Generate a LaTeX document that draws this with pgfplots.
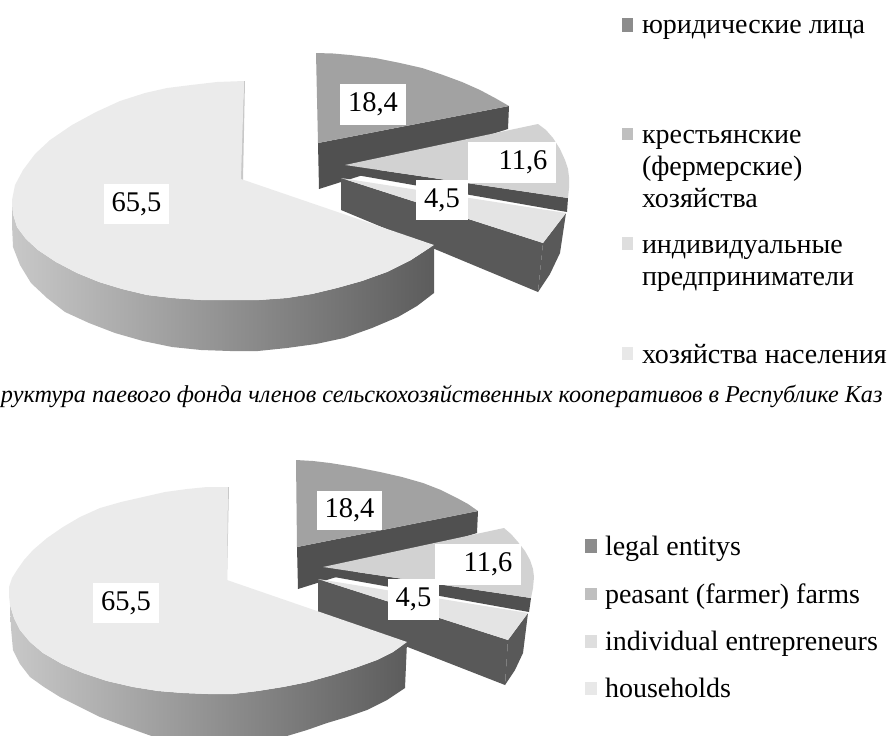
\documentclass[border=0pt]{standalone}
\usepackage{pgfplots}
\pgfplotsset{compat=1.18}
\usepackage{fontspec}
\setmainfont{Liberation Serif}
\definecolor{cbig}{HTML}{EBEBEB}
\definecolor{cleg}{HTML}{A2A2A2}
\definecolor{cpea}{HTML}{D2D2D2}
\definecolor{cind}{HTML}{E4E4E4}
\definecolor{cdark}{HTML}{505050}
\definecolor{cfront}{HTML}{595959}
\definecolor{cside}{HTML}{C8C8C8}
\definecolor{csided}{HTML}{5C5C5C}
\newcommand{\lab}{\fontsize{28.5}{30}\selectfont}
\newcommand{\leg}{\fontsize{28}{30}\selectfont}
\tikzset{valbox/.style={fill=white,text=black,anchor=center,align=center,inner sep=0pt},
  legtxt/.style={anchor=base west,inner sep=0pt,outer sep=0pt}}
\begin{document}
\begin{tikzpicture}
\useasboundingbox (0,0) rectangle (887pt,736pt);
\clip (0,0) rectangle (887pt,736pt);
\begin{axis}[scale only axis,width=887pt,height=736pt,xmin=0,xmax=887,ymin=0,ymax=736,y dir=reverse,hide axis,clip=true]
% ---- top pie: legal entities
\addplot[draw=none,fill=cdark] coordinates {(509,106)(508,129)(319,189)(318,143)} -- cycle;
\addplot[draw=none,fill=cleg] coordinates {(316,53)(333,53.5)(350,55)(375,58)(400,63)(422,68)(443,75)(462,82)(480,90)(495,98)(509,106)(318,143)} -- cycle;
% peasant
\addplot[draw=none,fill=cdark] coordinates {(345,165)(568,198)(567,212)(345,173)} -- cycle;
\addplot[draw=none,fill=cpea] coordinates {(345,165)(538,124)(546,130)(553,138)(560,149)(565,160)(568,169)(569,177)(569,188)(568,198)} -- cycle;
% individual
\addplot[draw=none,fill=cfront] coordinates {(543,243)(566,213)(560,253)(550,274)(538,292)} -- cycle;
\addplot[draw=none,fill=cfront] coordinates {(341,178)(543,243)(538,292)(341,210)} -- cycle;
\addplot[draw=none,fill=cind] coordinates {(341,178)(566,213)(543,243)} -- cycle;
% households
\addplot[draw=none,fill=cside] coordinates {(244,81)(245,81)(243,180)(240,180)} -- cycle;
\addplot[draw=none,left color=cside,right color=csided] coordinates {(434,245)(411,260)(387,272)(362,281)(337,288)(312,294)(287,298)(259,300)(230,300)(201,300)(172,298)(147,295)(122,289)(99,282)(77,273)(56,262)(38,250)(26,239)(17,227)(13,214)(12,200)(12,225)(13,247)(20,265)(31,283)(47,298)(65,312)(89,323)(115,333)(143,341)(172,347)(201,350)(230,351)(258,351)(287,348)(316,344)(344,338)(372,328)(398,317)(417,306)(434,293)} -- cycle;
\addplot[draw=none,fill=cbig] coordinates {(244,81)(217,82)(191,85)(167,88)(145,93)(120,101)(96,112)(72,125)(50,140)(35,154)(23,170)(15,185)(12,200)(13,214)(17,227)(26,239)(38,250)(56,262)(77,273)(99,282)(122,289)(147,295)(172,298)(201,300)(230,300)(259,300)(287,298)(312,294)(337,288)(362,281)(387,272)(411,260)(434,245)(241,179)} -- cycle;
% ---- bottom pie
\addplot[draw=none,fill=cdark] coordinates {(478,511)(477,533)(298,589)(297,547)} -- cycle;
\addplot[draw=none,fill=cleg] coordinates {(296,460)(313,461)(330,463)(355,467)(380,472)(402,477)(423,483)(441,490)(457,498)(468,504)(478,511)(297,547)} -- cycle;
\addplot[draw=none,fill=cdark] coordinates {(323,567)(531,598)(529,612)(323,575)} -- cycle;
\addplot[draw=none,fill=cpea] coordinates {(323,567)(504,528)(511,534)(518,542)(525,551)(530,560)(533,569)(534,577)(533,588)(531,598)} -- cycle;
\addplot[draw=none,fill=cfront] coordinates {(508,640)(528,613)(523,653)(515,670)(505,685)} -- cycle;
\addplot[draw=none,fill=cfront] coordinates {(318,579)(508,640)(505,685)(318,612)} -- cycle;
\addplot[draw=none,fill=cind] coordinates {(318,579)(528,613)(508,640)} -- cycle;
\addplot[draw=none,fill=cside] coordinates {(228,487)(229,487)(227,581)(224,581)} -- cycle;
\addplot[draw=none,left color=cside,right color=csided] coordinates {(407,642)(393,652)(377,660)(355,668)(333,675)(308,682)(283,687)(258,691)(233,694)(208,694)(183,693)(158,691)(133,687)(107,681)(83,673)(62,664)(43,653)(30,642)(20,630)(14,618)(10,605)(11,628)(13,650)(20,664)(30,677)(44,687)(60,697)(80,707)(100,717)(121,725)(143,733)(160,739)(185,748)(287,748)(287,736)(307,730)(327,723)(347,717)(367,710)(387,700)(405,688)} -- cycle;
\addplot[draw=none,fill=cbig] coordinates {(228,487)(207,487)(187,489)(165,492)(143,497)(121,502)(100,508)(80,517)(63,527)(47,538)(33,550)(24,560)(17,570)(12,578)(9,587)(9,596)(10,605)(14,618)(20,630)(30,642)(43,653)(62,664)(83,673)(107,681)(133,687)(158,691)(183,693)(208,694)(233,694)(258,691)(283,687)(308,682)(333,675)(355,668)(377,660)(393,652)(407,642)(227,580)} -- cycle;
% ---- legend swatches
\addplot[draw=none,fill=black!45] coordinates {(622,18)(633,18)(633,32)(622,32)} -- cycle;
\addplot[draw=none,fill=black!25] coordinates {(622,128)(633,128)(633,140)(622,140)} -- cycle;
\addplot[draw=none,fill=black!13] coordinates {(622,237)(633,237)(633,250)(622,250)} -- cycle;
\addplot[draw=none,fill=black!9] coordinates {(622,347)(633,347)(633,360)(622,360)} -- cycle;
\addplot[draw=none,fill=black!45] coordinates {(585,539)(597,539)(597,553)(585,553)} -- cycle;
\addplot[draw=none,fill=black!25] coordinates {(585,588)(597,588)(597,600)(585,600)} -- cycle;
\addplot[draw=none,fill=black!13] coordinates {(585,635)(597,635)(597,648)(585,648)} -- cycle;
\addplot[draw=none,fill=black!9] coordinates {(585,682)(597,682)(597,695)(585,695)} -- cycle;
% ---- value labels
\node[valbox,minimum width=66pt,minimum height=41pt] at (axis cs:373,104.5) {\lab 18,4};
\node[valbox,minimum width=88pt,minimum height=41pt] at (axis cs:512,162.5) {\lab\hspace*{22pt}11,6};
\node[valbox,minimum width=52pt,minimum height=40pt] at (axis cs:442,200) {\lab 4,5};
\node[valbox,minimum width=65pt,minimum height=40pt] at (axis cs:136.5,204) {\lab 65,5};
\node[valbox,minimum width=65pt,minimum height=39pt] at (axis cs:349.5,510.5) {\lab 18,4};
\node[valbox,minimum width=86pt,minimum height=41pt] at (axis cs:478,564.5) {\lab\hspace*{20pt}11,6};
\node[valbox,minimum width=51pt,minimum height=41pt] at (axis cs:413.5,599.5) {\lab 4,5};
\node[valbox,minimum width=66pt,minimum height=40pt] at (axis cs:126,603) {\lab 65,5};
% ---- legend text
\node[legtxt] at (axis cs:642,33) {\leg юридические лица};
\node[legtxt] at (axis cs:642,143) {\leg крестьянские};
\node[legtxt] at (axis cs:642,175) {\leg (фермерские)};
\node[legtxt] at (axis cs:642,207) {\leg хозяйства};
\node[legtxt] at (axis cs:642,253) {\leg индивидуальные};
\node[legtxt] at (axis cs:642,285) {\leg предприниматели};
\node[legtxt] at (axis cs:642,363) {\leg хозяйства населения};
\node[legtxt] at (axis cs:605,555) {\leg legal entitys};
\node[legtxt] at (axis cs:605,603) {\leg peasant (farmer) farms};
\node[legtxt] at (axis cs:605,650) {\leg individual entrepreneurs};
\node[legtxt] at (axis cs:605,697) {\leg households};
% ---- caption (cut off at both edges in the reference)
\node[legtxt] at (axis cs:1,402) {\fontsize{24.2}{26}\selectfont\itshape руктура паевого фонда членов сельскохозяйственных кооперативов в Республике Каз};
\end{axis}
\end{tikzpicture}
\end{document}
